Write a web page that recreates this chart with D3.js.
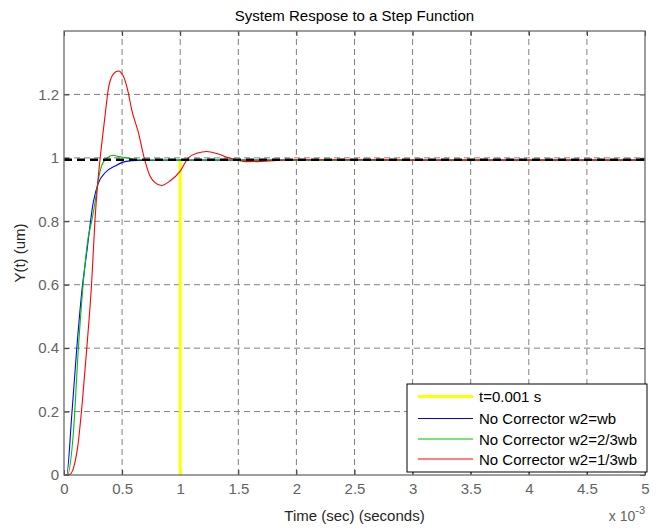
<!DOCTYPE html>
<html><head><meta charset="utf-8">
<script src="https://cdn.jsdelivr.net/npm/d3@7"></script>
<style>body{margin:0;background:#fff}svg{display:block;font-family:"Liberation Sans",Arial,sans-serif}</style>
</head><body>
<script>
const title = "System Respose to a Step Function";
const xLabel = "Time (sec) (seconds)";
const yLabel = "Y(t) (um)";
const xTicks = [0,0.5,1,1.5,2,2.5,3,3.5,4,4.5,5];
const yTicks = [0,0.2,0.4,0.6,0.8,1,1.2];
const legendLabels = ["t=0.001 s","No Corrector w2=wb","No Corrector w2=2/3wb","No Corrector w2=1/3wb"];
const markerTime = 1;     // x 10^-3 s
const finalValue = 0.994;
// time in units of 1e-3 s
const blueT = [0,0.023,0.066,0.109,0.152,0.195,0.252,0.295,0.353,0.439,0.525,0.64,1,2,5];
const blueY = [0,0.0,0.184,0.395,0.574,0.70,0.86,0.92,0.953,0.974,0.988,0.992,0.993,0.993,0.993];
const greenT = [0,0.03,0.08,0.123,0.166,0.209,0.238,0.267,0.295,0.324,0.367,0.424,0.467,0.539,0.6,0.8,2,5];
const greenY = [0,0,0.13,0.395,0.606,0.75,0.80,0.86,0.93,0.975,0.998,1.008,1.004,1.0,0.995,0.993,0.993,0.993];
const redT = [0,0.05,0.08,0.12,0.16,0.195,0.238,0.267,0.29,0.31,0.353,0.381,0.424,0.467,0.51,0.553,0.582,0.64,0.69,0.74,0.783,0.84,0.912,1.0,1.07,1.15,1.228,1.32,1.42,1.49,1.57,1.7,1.83,2.0,2.5,3,5];
const redY = [0,0.002,0.02,0.095,0.24,0.395,0.606,0.806,0.92,0.995,1.132,1.216,1.264,1.274,1.258,1.206,1.153,1.08,1.0,0.943,0.922,0.913,0.927,0.958,1.0,1.015,1.02,1.013,1.0,0.993,0.988,0.989,0.992,0.994,0.994,0.993,0.993];

const W = 663, H = 529;
const m = {l:64, r:18, t:31, b:54};
const svg = d3.select("body").append("svg").attr("width",W).attr("height",H);
const x = d3.scaleLinear().domain([0,5]).range([m.l, W-m.r]);
const y = d3.scaleLinear().domain([0,1.4]).range([H-m.b, m.t]);
const gridC = "#7f7f7f", axC = "#6a6a6a", txtC = "#636363";
const FS = "15px";

// grid
const g = svg.append("g");
g.selectAll(".gx").data(xTicks.slice(1,-1)).join("line")
 .attr("x1",d=>x(d)).attr("x2",d=>x(d)).attr("y1",y(0)).attr("y2",y(1.4))
 .attr("stroke",gridC).attr("stroke-dasharray","6,4").attr("stroke-width",1);
g.selectAll(".gy").data(yTicks.slice(1)).join("line")
 .attr("y1",d=>y(d)).attr("y2",d=>y(d)).attr("x1",x(0)).attr("x2",x(5))
 .attr("stroke",gridC).attr("stroke-dasharray","6,4").attr("stroke-width",1);

// axes
const xa = svg.append("g").attr("transform",`translate(0,${y(0)})`)
 .call(d3.axisBottom(x).tickValues(xTicks).tickSize(-5).tickPadding(8).tickFormat(d3.format("")));
const xt = svg.append("g").attr("transform",`translate(0,${y(1.4)})`)
 .call(d3.axisTop(x).tickValues(xTicks).tickSize(-5).tickFormat(""));
const ya = svg.append("g").attr("transform",`translate(${x(0)},0)`)
 .call(d3.axisLeft(y).tickValues(yTicks).tickSize(-5).tickPadding(5).tickFormat(d3.format("")));
const yr = svg.append("g").attr("transform",`translate(${x(5)},0)`)
 .call(d3.axisRight(y).tickValues(yTicks).tickSize(-5).tickFormat(""));
[xa,xt,ya,yr].forEach(a=>{
  a.select(".domain").remove();
  a.selectAll("line").attr("stroke","#333");
  a.selectAll("text").attr("fill",txtC).style("font-size",FS).style("font-family","'Liberation Sans',Arial,sans-serif");
});

// marker line
svg.append("line").attr("x1",x(markerTime)).attr("x2",x(markerTime)).attr("y1",y(0)).attr("y2",y(finalValue))
 .attr("stroke","#ffff00").attr("stroke-width",3);

const line = d3.line().x(d=>x(d[0])).y(d=>y(d[1])).curve(d3.curveMonotoneX);
const series = [[blueT,blueY,"#0000ff"],[greenT,greenY,"#00c000"],[redT,redY,"#ff0000"]];
series.forEach(([t,v,c])=>{
  svg.append("path").datum(t.map((d,i)=>[d,v[i]])).attr("d",line)
   .attr("fill","none").attr("stroke",c).attr("stroke-width",1.1);
});
// final value dashed
svg.append("line").attr("x1",x(0)).attr("x2",x(5)).attr("y1",y(finalValue)).attr("y2",y(finalValue))
 .attr("stroke","#000").attr("stroke-width",2.5).attr("stroke-dasharray","8,5");

// frame
svg.append("rect").attr("x",x(0)).attr("y",y(1.4)).attr("width",x(5)-x(0)).attr("height",y(0)-y(1.4))
 .attr("fill","none").attr("stroke",axC).attr("stroke-width",1.3);

// texts
svg.append("text").attr("x",(x(0)+x(5))/2).attr("y",21).attr("text-anchor","middle")
 .style("font-size",FS).attr("fill","#000").text(title);
svg.append("text").attr("x",(x(0)+x(5))/2).attr("y",521).attr("text-anchor","middle")
 .style("font-size",FS).attr("fill","#262626").text(xLabel);
svg.append("text").attr("transform",`translate(25,${(y(0)+y(1.4))/2}) rotate(-90)`).attr("text-anchor","middle")
 .style("font-size",FS).attr("fill","#262626").text(yLabel);
const ex = svg.append("text").attr("x",x(5)).attr("y",521).attr("text-anchor","end")
 .style("font-size","14px").attr("fill",txtC);
ex.append("tspan").text("x 10");
ex.append("tspan").attr("dy",-7).style("font-size","11px").text("-3");

// legend
const lg = svg.append("g");
const lx = 407, ly = 384, lw = 240, lh = 88;
lg.append("rect").attr("x",lx).attr("y",ly).attr("width",lw).attr("height",lh).attr("fill","#fff").attr("stroke","#000");
const lcols = ["#ffff00","#0000ff","#00c000","#ff0000"];
const lwid = [3,1,1,1];
const lys = [396.5,418.5,439,459];
legendLabels.forEach((s,i)=>{
  lg.append("line").attr("x1",418).attr("x2",473).attr("y1",lys[i]).attr("y2",lys[i]).attr("stroke",lcols[i]).attr("stroke-width",lwid[i]);
  lg.append("text").attr("x",479).attr("y",lys[i]+5.5).style("font-size",FS).attr("fill","#000").text(s);
});
</script>
</body></html>
